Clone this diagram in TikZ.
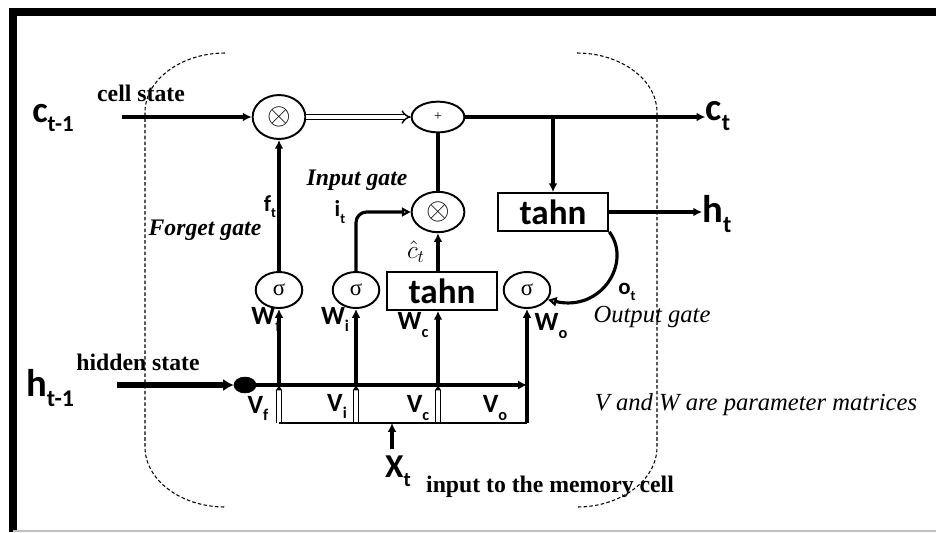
\documentclass[tikz,border=0pt]{standalone}
\usepackage{fontspec}
\setmainfont{Liberation Serif}
\setsansfont{Carlito}
\usetikzlibrary{arrows.meta, positioning, calc, shapes.geometric}
\newcommand{\lowsub}[1]{\raisebox{-0.55ex}{\scalebox{0.62}{#1}}}

\begin{document}
\begin{tikzpicture}[
        x=0.02cm, y=-0.02cm,
        opcirc/.style={
            draw,
            ellipse,
            line width=1.1pt,
            inner sep=0pt,
            minimum width=30pt,
            minimum height=25pt
        },
        sigmacirc/.style={
            draw,
            ellipse,
            line width=1.1pt,
            inner sep=0pt,
            minimum width=26.5pt,
            minimum height=20.5pt,
            font=\fontsize{13}{13}\selectfont
        },
        tahnbox/.style={
            draw,
            line width=1.1pt,
            inner sep=0pt,
            minimum width=63pt,
            minimum height=21.5pt,
            font=\sffamily\bfseries\fontsize{20}{20}\selectfont
        },
        biglabel/.style={font=\sffamily\bfseries\fontsize{22}{22}\selectfont, inner sep=0pt},
        wlabel/.style={font=\sffamily\bfseries\fontsize{15}{15}\selectfont, inner sep=0pt},
        gatelabel/.style={font=\sffamily\bfseries\fontsize{13}{13}\selectfont, inner sep=0pt},
        statetext/.style={font=\bfseries\fontsize{13.5}{13.5}\selectfont, inner sep=0pt},
        gatetext/.style={font=\bfseries\itshape\fontsize{13.5}{13.5}\selectfont, inner sep=0pt},
        notetext/.style={font=\itshape\fontsize{14}{14}\selectfont, inner sep=0pt},
        flow/.style={-{Latex[length=5pt, width=5pt]}, line width=2.2pt},
        vbar/.style={double, double distance=1.8pt, line width=0.7pt, -{Latex[length=3pt, width=4pt]}},
        hollowflow/.style={-{Triangle[open, length=5pt, width=5pt]}, line width=1.8pt},
        cellbound/.style={line width=0.6pt, dash pattern=on 2pt off 1.3pt}
    ]
        \useasboundingbox (0,0) rectangle (936,532);

        % frame
        \draw[line width=4.6pt] (9,12) -- (936,12);
        \draw[line width=4.6pt] (13,8) -- (13,532);
        \draw[gray!50, line width=0.8pt] (13,531) -- (936,531);

        % memory cell outline
        \draw[cellbound] (225,53) .. controls (181,53) and (145,80) .. (145,112)
            -- (145,447) .. controls (145,480) and (181,507) .. (225,507);
        \draw[cellbound] (577,53) .. controls (621,53) and (657,80) .. (657,112)
            -- (657,447) .. controls (657,480) and (621,507) .. (577,507);

        % cell state line
        \node[biglabel, font=\sffamily\bfseries\fontsize{21}{21}\selectfont] (cprev) at (53,118) {c\lowsub{t-1}};
        \node[statetext] (cellstate) at (141,93) {cell state};
        \coordinate (cin) at (122,117);
        \node[opcirc] (mulf) at (279,117) {\fontsize{16}{16}\selectfont$\otimes$};
        \node[opcirc, minimum height=17.5pt] (plus) at (438,117) {\footnotesize +};
        \node[biglabel] (ct) at (718,116) {c\lowsub{t}};

        % output side
        \node[tahnbox] (tahno) at (553,212) {tahn};
        \node[biglabel] (ht) at (717,214) {h\lowsub{t}};

        % input gate and candidate
        \node[opcirc, minimum height=23pt] (muli) at (438,212) {\fontsize{16}{16}\selectfont$\otimes$};
        \node[tahnbox] (tahnc) at (442,291) {tahn};
        \node[sigmacirc] (sigf) at (279,290) {σ};
        \node[sigmacirc] (sigi) at (356,290) {σ};
        \node[sigmacirc] (sigo) at (527,290) {σ};

        \node[gatelabel] (ft) at (270,207) {f\lowsub{t}};
        \node[gatetext] (forgetgate) at (205,230) {Forget gate};
        \node[gatetext] (inputgate) at (357,180) {Input gate};
        \node[gatelabel] (it) at (340,212) {i\lowsub{t}};
        \node[font=\Large, inner sep=0pt] (chat) at (416,252) {$\hat{c}_t$};
        \node[gatelabel] (ot) at (627,292) {o\lowsub{t}};
        \node[notetext] (outputgate) at (652,317) {Output gate};

        \node[wlabel] (wf) at (266,319) {W\lowsub{f}};
        \node[wlabel] (wi) at (335,319) {W\lowsub{i}};
        \node[wlabel] (wc) at (413,325) {W\lowsub{c}};
        \node[wlabel] (wo) at (551,326) {W\lowsub{o}};

        % hidden state and input
        \node[biglabel] (hprev) at (50,388) {h\lowsub{t-1}};
        \node[statetext] (hiddenstate) at (138,362) {hidden state};
        \coordinate (hin) at (117,385);
        \node[draw, fill, ellipse, inner sep=0pt, minimum width=12.5pt, minimum height=9pt] (hdot) at (245,385) {};
        \coordinate (xbase) at (392,423);
        \coordinate (xin) at (392,449);
        \node[biglabel, font=\sffamily\bfseries\fontsize{19}{19}\selectfont] (xt) at (398,471) {X\lowsub{t}};
        \node[statetext] (inputtext) at (550,487) {input to the memory cell};

        \node[wlabel] (vf) at (258,408) {V\lowsub{f}};
        \node[wlabel] (vi) at (337,406) {V\lowsub{i}};
        \node[wlabel] (vc) at (418,408) {V\lowsub{c}};
        \node[wlabel] (vo) at (495,408) {V\lowsub{o}};
        \node[notetext] (paramnote) at (756,405) {V and W are parameter matrices};

        % connectors
        \draw[flow] (cin) -- (mulf.west);
        \draw[double, double distance=1.8pt, line width=0.8pt, -{Implies}] (mulf.east) -- (plus.west);
        \draw[flow] (plus.east) -- (plus.east -| ct.west);
        \draw[flow] (tahno.north |- plus.east) -- (tahno.north);
        \draw[flow] (tahno.east) -- (tahno.east -| ht.west);
        \draw[line width=2.2pt] (muli.north) -- (plus.south);
        \draw[flow] (sigf.north) -- (mulf.south);
        \draw[hollowflow, rounded corners=6pt] (sigi.north) |- (muli.west);
        \draw[flow] (muli.south |- tahnc.north) -- (muli.south);
        \draw[hollowflow] (tahno.south east) .. controls (632,262) and (602,312) .. (sigo.-25);

        \draw[-{Latex[length=6pt, width=7pt]}, line width=3.4pt] (hin) -- (hdot.west);
        \draw[-{Latex[length=5pt, width=5pt]}, line width=2.4pt] (hdot.east) -- (sigo |- hdot);
        \draw[flow] (sigf |- hdot) -- (sigf.south);
        \draw[flow] (sigi |- hdot) -- (sigi.south);
        \draw[flow] (muli |- hdot) -- (muli |- tahnc.south);
        \draw[flow] (sigo |- hdot) -- (sigo.south);

        \draw[vbar] (sigf |- xbase) -- (sigf |- hdot);
        \draw[vbar] (sigi |- xbase) -- (sigi |- hdot);
        \draw[vbar] (muli |- xbase) -- (muli |- hdot);
        \draw[line width=2.2pt] (sigo |- xbase) -- (sigo |- hdot);
        \draw[line width=1.2pt] (sigf |- xbase) -- (sigo |- xbase);
        \draw[flow] (xin) -- (xbase);
    \end{tikzpicture}
\end{document}
